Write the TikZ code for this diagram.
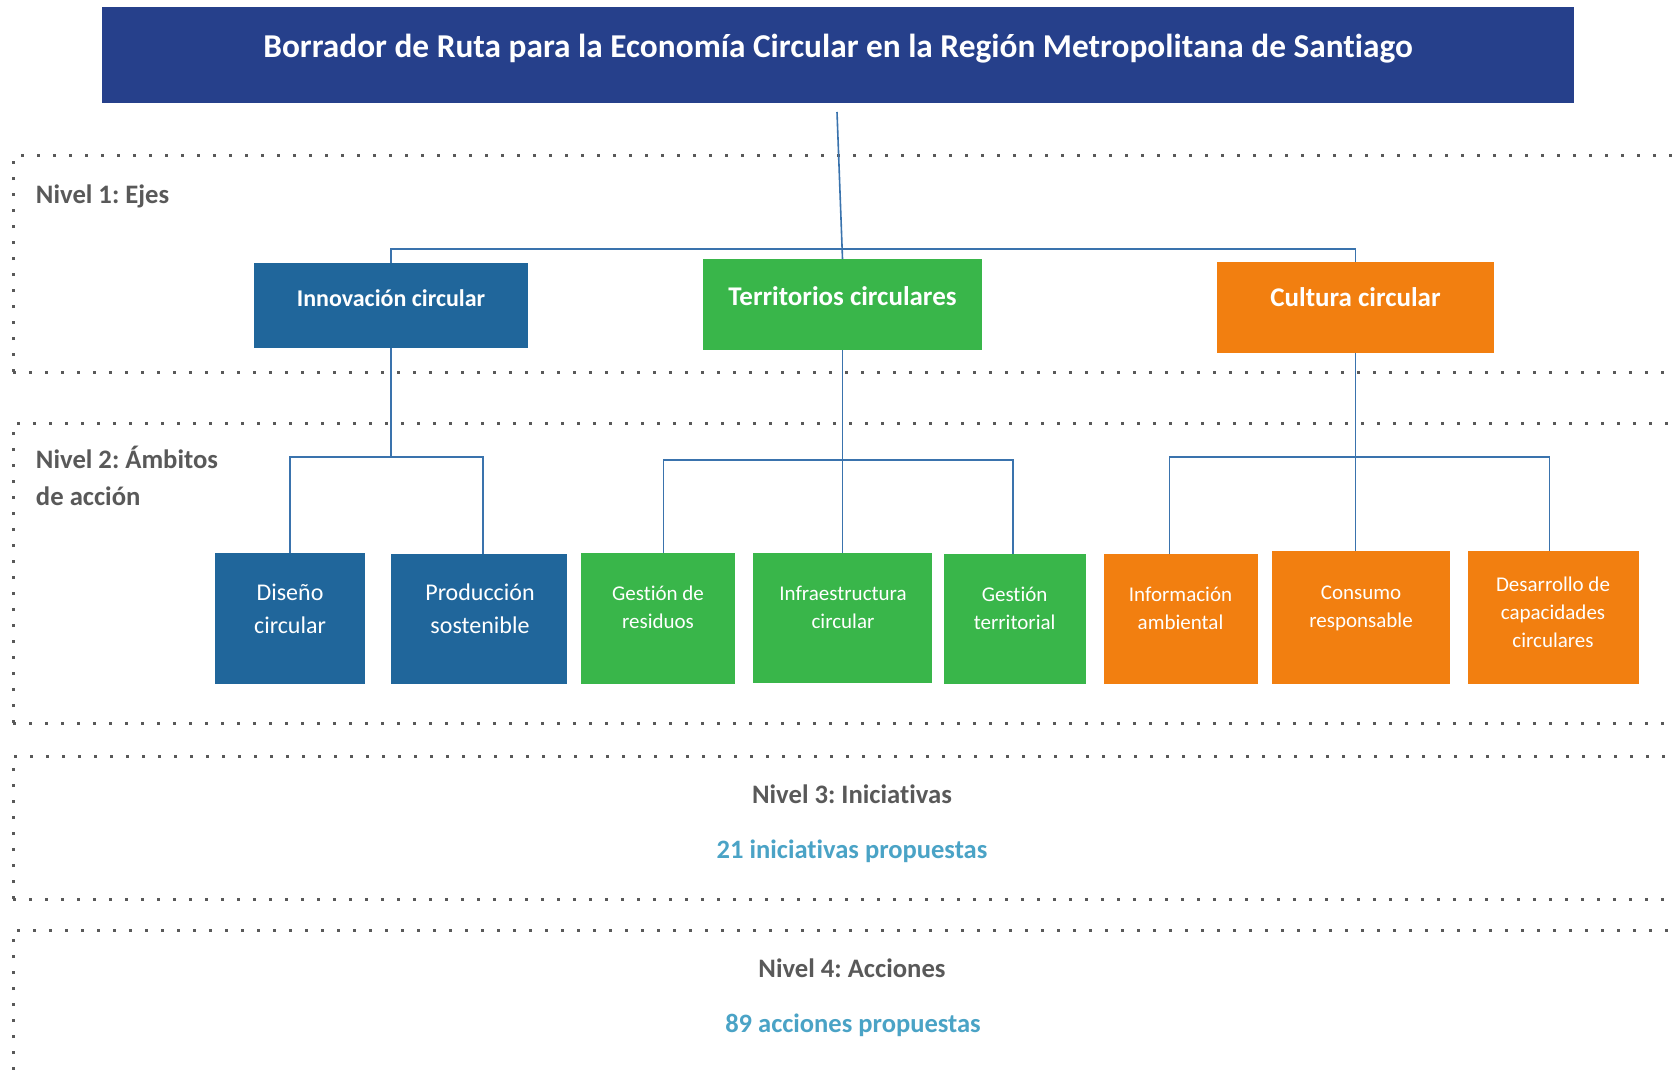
\documentclass[tikz,border=0pt]{standalone}
\usepackage{fontspec}
\setmainfont{Carlito}[Ligatures=CommonOff]
\usetikzlibrary{fit}
\frenchspacing
\definecolor{titleblue}{HTML}{26408B}
\definecolor{boxblue}{HTML}{20669B}
\definecolor{boxgreen}{HTML}{39B64A}
\definecolor{boxorange}{HTML}{F27F10}
\definecolor{connblue}{HTML}{3A73AD}
\definecolor{lvlgray}{HTML}{595959}
\definecolor{counttext}{HTML}{4AA3C6}
\begin{document}
\frenchspacing
\begin{tikzpicture}[x=0.75pt,y=-0.75pt,
  box/.style={inner sep=0pt, outer sep=0pt, draw=none},
  conn/.style={draw=connblue, line width=1.2pt},
  dotline/.style={draw=lvlgray, line width=2.25pt, dash pattern=on 2.25pt off 9.75pt},
  wtxt/.style={text=white, inner sep=0pt, outer sep=0pt},
  l1txt/.style={wtxt, anchor=base, font=\fontsize{20.25}{24}\selectfont\bfseries},
  l2txt/.style={wtxt, align=center, font=\fontsize{15.75}{21}\selectfont},
  l2btxt/.style={wtxt, align=center, font=\fontsize{18}{24.75}\selectfont},
  lvltxt/.style={text=lvlgray, inner sep=0pt, outer sep=0pt, font=\fontsize{20}{27.75}\selectfont\bfseries},
  cnttxt/.style={text=counttext, inner sep=0pt, outer sep=0pt, anchor=base, font=\fontsize{19.9}{24}\selectfont\bfseries}
]
\useasboundingbox (0,0) rectangle (1673,1070);
\fill[white] (0,0) rectangle (1673,1070);

% dotted level frames
\draw[dotline] (13,372) -- (13,156) -- (1673,156);
\draw[dotline] (13,372) -- (1673,372);
\draw[dotline] (13,723) -- (13,423) -- (1673,423);
\draw[dotline] (13,723) -- (1673,723);
\draw[dotline] (13,899) -- (13,756) -- (1673,756);
\draw[dotline] (13,899) -- (1673,899);
\draw[dotline] (13,1070) -- (13,930) -- (1673,930);

% title
\node[box, fill=titleblue, fit={(102,7) (1574,103)}] (title) {};
\node[wtxt, anchor=base, font=\fontsize{25}{30}\selectfont\bfseries] (titleT) at (838,58) {Borrador de Ruta para la Economía Circular en la Región Metropolitana de Santiago};

% level labels
\node[lvltxt, anchor=base west] (niv1) at (36,203) {Nivel 1: Ejes};
\node[lvltxt, anchor=west, align=left] (niv2) at (36,480) {\strut Nivel 2: Ámbitos\\\strut de acción};
\node[lvltxt, anchor=base] (niv3) at (852,803) {Nivel 3: Iniciativas};
\node[cnttxt] (cnt3) at (852,858) {21 iniciativas propuestas};
\node[lvltxt, anchor=base] (niv4) at (852,977) {Nivel 4: Acciones};
\node[cnttxt] (cnt4) at (853,1032) {89 acciones propuestas};

% level 1 boxes
\node[box, fill=boxblue, fit={(254,263) (528,348)}] (innov) {};
\node[l1txt, font=\fontsize{18}{22}\selectfont\bfseries] (innovT) at (391,306) {Innovación circular};
\node[box, fill=boxgreen, fit={(703,259) (982,350)}] (territ) {};
\node[l1txt] (territT) at (842.5,305) {Territorios circulares};
\node[box, fill=boxorange, fit={(1217,262) (1494,353)}] (cult) {};
\node[l1txt] (cultT) at (1355.5,306) {Cultura circular};

% level 2 boxes
\node[box, fill=boxblue, fit={(215,553) (365,684)}] (dis) {};
\node[l2btxt] (disT) at (290,610) {\strut Diseño\\\strut circular};
\node[box, fill=boxblue, fit={(391,554) (567,684)}] (prod) {};
\node[l2btxt] (prodT) at (480,610) {\strut Producción\\\strut sostenible};
\node[box, fill=boxgreen, fit={(581,553) (735,684)}] (gres) {};
\node[l2txt] (gresT) at (658,608.4) {\strut Gestión de\\\strut residuos};
\node[box, fill=boxgreen, fit={(753,553) (932,683)}] (infra) {};
\node[l2txt] (infraT) at (843,608.4) {\strut Infraestructura\\\strut circular};
\node[box, fill=boxgreen, fit={(944,554) (1086,684)}] (gter) {};
\node[l2txt] (gterT) at (1014.6,609.4) {\strut Gestión\\\strut territorial};
\node[box, fill=boxorange, fit={(1104,554) (1258,684)}] (info) {};
\node[l2txt] (infoT) at (1180.5,609.4) {\strut Información\\\strut ambiental};
\node[box, fill=boxorange, fit={(1272,551) (1450,684)}] (cons) {};
\node[l2txt] (consT) at (1361,607.4) {\strut Consumo\\\strut responsable};
\node[box, fill=boxorange, fit={(1468,551) (1639,684)}] (desa) {};
\node[l2txt] (desaT) at (1553,613.4) {\strut Desarrollo de\\\strut capacidades\\\strut circulares};

% connectors level 1
\coordinate (tstem) at (837,112);
\draw[conn] (tstem) -- (territ.north);
\draw[conn] (innov.north) -- ++(0,-14) -| (cult.north);

% connectors level 2
\coordinate (j1) at (391,457);
\draw[conn] (innov.south) -- (j1);
\draw[conn] (dis.north) |- ([xshift=3pt]prod.north |- j1) -- ([xshift=3pt]prod.north);
\coordinate (j2) at (842.5,460);
\draw[conn] (territ.south) -- (infra.north);
\draw[conn] ([xshift=4.2pt]gres.north) |- ([xshift=-1.5pt]gter.north |- j2) -- ([xshift=-1.5pt]gter.north);
\coordinate (j3) at (1355.5,457);
\draw[conn] (cult.south) -- (cult.south |- cons.north);
\draw[conn] ([xshift=-8.6pt]info.north) |- ([xshift=-3pt]desa.north |- j3) -- ([xshift=-3pt]desa.north);
\end{tikzpicture}
\end{document}
